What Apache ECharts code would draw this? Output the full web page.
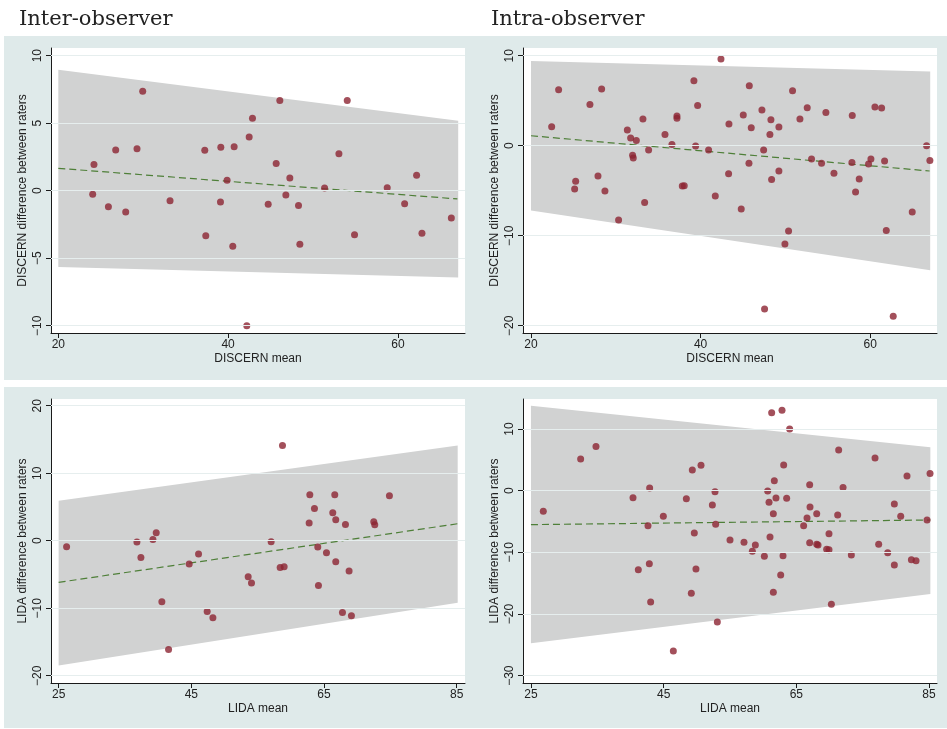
<!DOCTYPE html>
<html><head><meta charset="utf-8">
<script src="https://cdn.jsdelivr.net/npm/echarts@6/dist/echarts.min.js"></script>
<style>html,body{margin:0;padding:0;background:#fff}#c{width:947px;height:729px}</style>
</head><body><div id="c"></div>
<script>
// ---------- DATA ----------
const panelTitles = ['Inter-observer', 'Intra-observer'];
const xNames = ['DISCERN mean', 'DISCERN mean', 'LIDA mean', 'LIDA mean'];
const yNames = ['DISCERN difference between raters', 'DISCERN difference between raters', 'LIDA difference between raters', 'LIDA difference between raters'];

const xTicksTL = [20, 40, 60], yTicksTL = [-10, -5, 0, 5, 10];
const xTicksTR = [20, 40, 60], yTicksTR = [-20, -10, 0, 10];
const xTicksBL = [25, 45, 65, 85], yTicksBL = [-20, -10, 0, 10, 20];
const xTicksBR = [25, 45, 65, 85], yTicksBR = [-30, -20, -10, 0, 10];

// Inter-observer DISCERN
const pointsTL = [[24.2,1.95],[24.05,-0.27],[25.9,-1.19],[26.76,3.01],[27.94,-1.58],[29.27,3.11],[29.94,7.36],[33.16,-0.74],[37.25,2.99],[37.37,-3.33],[39.14,3.21],[39.1,-0.84],[39.88,0.77],[40.71,3.26],[40.55,-4.12],[42.2,-10],[42.48,3.98],[42.87,5.36],[44.72,-1.01],[45.66,2.02],[46.09,6.69],[46.8,-0.32],[47.27,0.94],[48.29,-1.09],[48.45,-3.96],[51.36,0.2],[53.05,2.74],[54.03,6.69],[54.89,-3.26],[58.74,0.22],[60.79,-0.96],[62.2,1.14],[62.83,-3.16],[66.29,-2.02]];
const bandTL = [20, 67.1, 8.96, 5.19, -5.65, -6.42];   // x0, x1, upper0, upper1, lower0, lower1
const meanTL = [[20, 1.66], [67.0, -0.61]];

// Intra-observer DISCERN
const pointsTR = [[22.44,2.11],[23.26,6.22],[25.15,-4.81],[25.27,-3.96],[26.95,4.59],[27.9,-3.37],[28.33,6.3],[28.72,-5.04],[30.33,-8.26],[31.36,1.74],[31.75,0.85],[31.98,-1.07],[32.06,-1.37],[32.42,0.59],[33.2,2.96],[33.4,-6.3],[33.87,-0.48],[35.8,1.26],[36.62,0.15],[37.21,3.3],[37.21,3.04],[37.84,-4.48],[38.07,-4.44],[39.21,7.22],[39.41,-0.04],[39.65,4.48],[40.94,-0.48],[41.73,-5.59],[42.4,9.63],[43.34,2.41],[43.3,-3.11],[44.79,-7.04],[45.03,3.41],[45.74,6.67],[45.7,-1.96],[45.97,2.0],[47.23,3.96],[47.43,-0.48],[47.54,-18.15],[48.29,2.89],[48.17,1.26],[48.37,-3.74],[49.23,2.07],[49.23,-2.81],[49.94,-10.93],[50.37,-9.48],[50.84,6.11],[51.71,2.96],[52.57,4.22],[53.08,-1.48],[54.26,-1.96],[54.77,3.7],[55.72,-3.07],[57.88,3.37],[57.84,-1.85],[58.27,-5.15],[58.7,-3.7],[59.8,-2.04],[60.08,-1.48],[60.55,4.3],[61.34,4.19],[61.69,-1.7],[61.89,-9.41],[62.71,-18.96],[64.95,-7.37],[66.64,0.0],[67.03,-1.63]];
const bandTR = [20, 67.07, 9.41, 8.26, -7.19, -13.85];
const meanTR = [[20, 1.11], [67.0, -2.81]];

// Inter-observer LIDA
const pointsBL = [[26.2,-0.89],[36.8,-0.2],[37.4,-2.47],[39.21,0.2],[39.71,1.19],[40.56,-9.04],[41.57,-16.1],[44.68,-3.46],[46.09,-1.98],[47.39,-10.47],[48.25,-11.41],[53.57,-5.33],[54.07,-6.27],[57.03,-0.15],[58.39,-3.95],[58.99,-3.85],[58.74,14.12],[62.76,2.62],[62.86,6.81],[63.56,4.79],[64.06,-0.94],[64.16,-6.62],[65.37,-1.78],[66.32,4.15],[66.62,6.81],[66.77,3.11],[66.77,-3.11],[67.78,-10.62],[68.23,2.42],[68.78,-4.49],[69.13,-11.11],[72.5,2.81],[72.65,2.37],[74.86,6.67]];
const bandBL = [25, 85.15, 5.93, 14.12, -18.47, -9.19];
const meanBL = [[25, -6.17], [85.15, 2.52]];

// Intra-observer LIDA
const pointsBR = [[26.86,-3.35],[32.49,5.14],[34.8,7.14],[40.38,-1.14],[41.18,-12.81],[42.64,-5.68],[42.89,0.43],[42.84,-11.84],[43.04,-18.05],[44.95,-4.16],[46.46,-26.0],[48.42,-1.3],[49.17,-16.65],[49.32,3.35],[49.62,-6.86],[49.87,-12.7],[50.63,4.11],[52.34,-2.32],[52.74,-0.16],[52.84,-5.46],[53.09,-21.3],[55.0,-8.0],[57.11,-8.38],[58.37,-9.84],[58.82,-8.81],[60.18,-10.65],[60.68,-0.05],[60.88,-1.89],[61.03,-7.51],[61.28,12.65],[61.53,-3.73],[61.53,-16.49],[61.68,1.62],[61.93,-1.19],[62.64,-13.68],[62.84,13.03],[62.99,-10.54],[63.09,4.16],[63.54,-1.24],[63.99,10.0],[66.1,-5.68],[66.61,-4.43],[67.01,0.97],[67.06,-2.65],[67.01,-8.43],[68.07,-3.73],[68.07,-8.7],[68.27,-8.81],[69.57,-9.51],[69.92,-6.97],[69.92,-9.57],[70.28,-18.43],[71.23,-3.95],[71.38,6.59],[72.04,0.49],[73.29,-10.43],[76.86,5.3],[77.41,-8.7],[78.77,-10.05],[79.77,-2.16],[79.77,-12.05],[80.73,-4.16],[81.68,2.38],[82.34,-11.19],[83.04,-11.35],[84.7,-4.76],[85.15,2.76]];
const bandBR = [25, 85.2, 13.78, 7.03, -24.76, -16.76];
const meanBR = [[25, -5.51], [85.2, -4.76]];

// ---------- LAYOUT / STYLE ----------
const panels = [
  {grid:{left:51, top:48, width:414, height:285}, xr:[19.14,67.9], yr:[-10.54,10.57], xt:xTicksTL, yt:yTicksTL, pts:pointsTL, band:bandTL, mean:meanTL},
  {grid:{left:523, top:48, width:414, height:285}, xr:[19.06,67.87], yr:[-20.81,10.86], xt:xTicksTR, yt:yTicksTR, pts:pointsTR, band:bandTR, mean:meanTR},
  {grid:{left:51, top:399, width:414, height:284}, xr:[23.85,86.25], yr:[-21.08,21.0], xt:xTicksBL, yt:yTicksBL, pts:pointsBL, band:bandBL, mean:meanBL},
  {grid:{left:523, top:399, width:414, height:284}, xr:[23.8,86.2], yr:[-31.19,14.86], xt:xTicksBR, yt:yTicksBR, pts:pointsBR, band:bandBR, mean:meanBR}
];
const FONT = 'Liberation Sans';
const TXT = '#222';
const fmt = v => String(v).replace('-', '\u2212');

const grids = [], xAxes = [], yAxes = [], series = [];
panels.forEach((p, i) => {
  grids.push(Object.assign({show:true, backgroundColor:'#ffffff', borderWidth:0, containLabel:false}, p.grid));
  xAxes.push({
    type:'value', gridIndex:i, min:p.xr[0], max:p.xr[1],
    name:xNames[i], nameLocation:'middle', nameGap:20,
    nameTextStyle:{fontFamily:FONT, fontSize:12, color:TXT},
    axisLine:{show:true, onZero:false, lineStyle:{color:'#1a1a1a', width:1}},
    axisTick:{show:true, length:5, customValues:p.xt, lineStyle:{color:'#1a1a1a'}},
    axisLabel:{customValues:p.xt, fontFamily:FONT, fontSize:12, color:TXT, margin:6, formatter:fmt},
    splitLine:{show:false}
  });
  yAxes.push({
    type:'value', gridIndex:i, min:p.yr[0], max:p.yr[1],
    name:yNames[i], nameLocation:'middle', nameGap:22,
    nameTextStyle:{fontFamily:FONT, fontSize:12, color:TXT},
    axisLine:{show:true, onZero:false, lineStyle:{color:'#1a1a1a', width:1}},
    axisTick:{show:true, length:5, customValues:p.yt, lineStyle:{color:'#1a1a1a'}},
    axisLabel:{customValues:p.yt, rotate:90, fontFamily:FONT, fontSize:12, color:TXT, margin:7, formatter:fmt},
    splitLine:{show:false}
  });
  // gridlines
  series.push({
    type:'line', xAxisIndex:i, yAxisIndex:i, data:[], silent:true,
    markLine:{symbol:'none', silent:true, label:{show:false},
      lineStyle:{color:'#e6eeee', width:1.2, type:'solid'},
      data:p.yt.map(v => ({yAxis:v}))}
  });
  // band
  series.push({
    type:'custom', xAxisIndex:i, yAxisIndex:i, silent:true, z:2,
    data:[p.band], encode:{x:[0,1], y:[2,3,4,5]},
    renderItem:(params, api) => {
      const pts = [
        api.coord([api.value(0), api.value(2)]),
        api.coord([api.value(1), api.value(3)]),
        api.coord([api.value(1), api.value(5)]),
        api.coord([api.value(0), api.value(4)])
      ];
      return {type:'polygon', shape:{points:pts}, style:{fill:'#d1d2d2'}};
    }
  });
  // mean regression line
  series.push({
    type:'line', xAxisIndex:i, yAxisIndex:i, data:p.mean, symbol:'none', silent:true, z:3,
    lineStyle:{color:'#4e7f38', width:1.2, type:[7,4]}
  });
  // points
  series.push({
    type:'scatter', xAxisIndex:i, yAxisIndex:i, data:p.pts, symbol:'circle', symbolSize:7, z:4,
    itemStyle:{color:'#8c2432'}
  });
});

const option = {
  backgroundColor:'#ffffff',
  animation:false,
  title:[
    {text:panelTitles[0], left:14, top:4, textStyle:{fontFamily:'DejaVu Serif', fontSize:21, fontWeight:'normal', color:'#222'}},
    {text:panelTitles[1], left:486, top:4, textStyle:{fontFamily:'DejaVu Serif', fontSize:21, fontWeight:'normal', color:'#222'}}
  ],
  graphic:[
    {type:'rect', z:-10, silent:true, shape:{x:4, y:36, width:943, height:344}, style:{fill:'#dfeaea'}},
    {type:'rect', z:-10, silent:true, shape:{x:4, y:387, width:943, height:341}, style:{fill:'#dfeaea'}}
  ],
  grid:grids, xAxis:xAxes, yAxis:yAxes, series:series
};
const chart = echarts.init(document.getElementById('c'), null, {renderer:'canvas'});
chart.setOption(option);
</script></body></html>
